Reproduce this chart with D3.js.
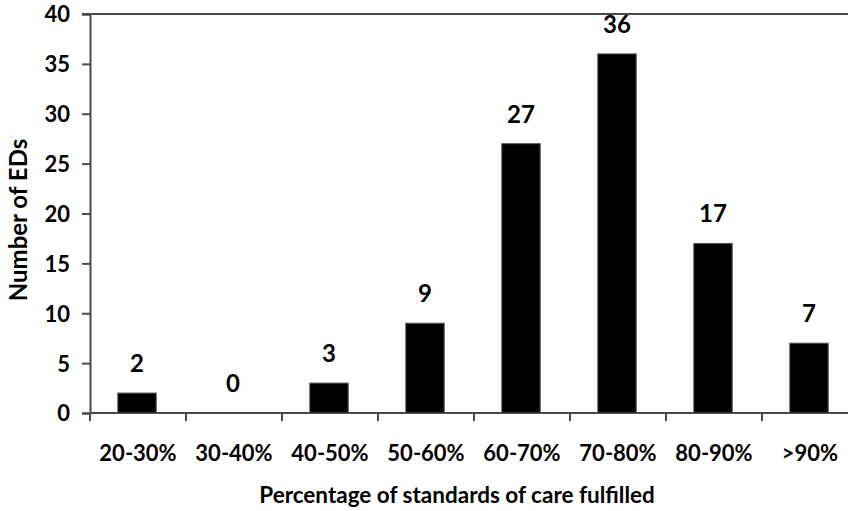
<!DOCTYPE html>
<html><head><meta charset="utf-8">
<script src="https://cdn.jsdelivr.net/npm/d3@7"></script>
<style>
body{margin:0;background:#fff;}
svg{display:block;}
text{font-family:Lato,"Open Sans",sans-serif;font-weight:700;fill:#000;}
</style></head>
<body><svg id="c" width="848" height="511"></svg>
<script>
const categories = ["20-30%","30-40%","40-50%","50-60%","60-70%","70-80%","80-90%",">90%"];
const values = [2,0,3,9,27,36,17,7];
const yTicks = [0,5,10,15,20,25,30,35,40];
const xTitle = "Percentage of standards of care fulfilled";
const yTitle = "Number of EDs";

const svg = d3.select("#c");
const x0 = 90, y0 = 413;
const x = d3.scaleBand().domain(categories).range([x0, x0 + 8*96]).padding(0);
const y = d3.scaleLinear().domain([0,40]).range([y0, 14]);
const axisColor = "#4a4a4a";

// top line at 40
svg.append("line").attr("x1", x0 - 8).attr("x2", 848).attr("y1", y(40)).attr("y2", y(40))
  .attr("stroke", axisColor).attr("stroke-width", 2);

// y axis
const yAxis = svg.append("g").attr("transform", `translate(${x0},0)`)
  .call(d3.axisLeft(y).tickValues(yTicks).tickSize(8).tickPadding(12));
yAxis.select(".domain").attr("stroke", axisColor).attr("stroke-width", 2);
yAxis.selectAll(".tick line").attr("stroke", axisColor).attr("stroke-width", 2);
yAxis.selectAll(".tick text").attr("font-size", 22).attr("dy", "0.36em").style("font-family","Lato").style("font-weight",700).attr("fill","#000");

// x axis
const xAxis = svg.append("g").attr("transform", `translate(0,${y0})`)
  .call(d3.axisBottom(x).tickSize(0).tickPadding(0));
xAxis.select(".domain").remove();
xAxis.append("line").attr("x1", x0).attr("x2", 848).attr("y1", 0).attr("y2", 0)
  .attr("stroke", axisColor).attr("stroke-width", 2);
xAxis.selectAll(".tick text").attr("font-size", 22).attr("y", 48).attr("dy", 0).style("font-family","Lato").style("font-weight",700).attr("fill","#000");
xAxis.selectAll(".bnd").data(categories).enter().append("line")
  .attr("x1", d => x(d)).attr("x2", d => x(d)).attr("y1", 0).attr("y2", 8)
  .attr("stroke", axisColor).attr("stroke-width", 2);

// bars
const bw = x.bandwidth() * 0.4;
svg.selectAll(".bar").data(values).enter().append("rect")
  .attr("x", (d,i) => x(categories[i]) + x.bandwidth()/2 - bw/2 - 1)
  .attr("y", d => y(d))
  .attr("width", bw)
  .attr("height", d => y0 - y(d))
  .attr("fill", "#000").attr("stroke", "#555").attr("stroke-width", 1);

// data labels
svg.selectAll(".lbl").data(values).enter().append("text")
  .attr("x", (d,i) => x(categories[i]) + x.bandwidth()/2 - 1)
  .attr("y", d => y(d) - 21)
  .attr("text-anchor", "middle").attr("font-size", 24)
  .text(d => d);

// titles
svg.append("text").attr("x", 457).attr("y", 503).attr("text-anchor","middle").attr("font-size", 22.5).text(xTitle);
svg.append("text").attr("transform","translate(27,220) rotate(-90)").attr("text-anchor","middle").attr("font-size", 24).text(yTitle);
</script></body></html>
